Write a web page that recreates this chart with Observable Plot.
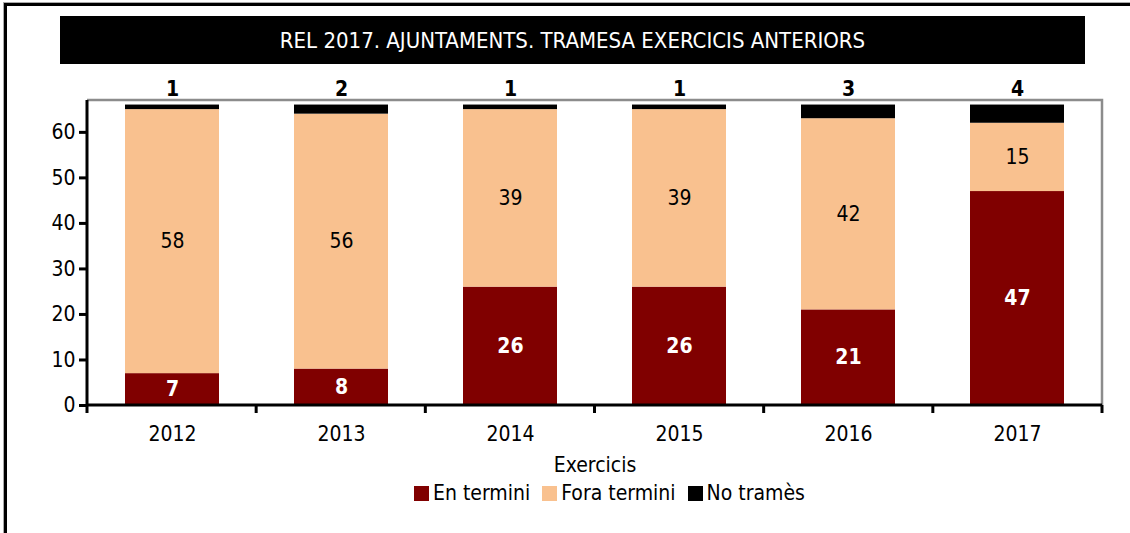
<!DOCTYPE html>
<html>
<head>
<meta charset="utf-8">
<script src="https://cdn.jsdelivr.net/npm/d3@7"></script>
<script src="https://cdn.jsdelivr.net/npm/@observablehq/plot@0.6"></script>
<style>
  html, body { margin: 0; padding: 0; background: #fff; }
  #wrap { position: relative; width: 1130px; height: 533px; overflow: hidden;
    font-family: "Liberation Sans Narrow", "Arial Narrow", "DejaVu Sans Condensed", sans-serif; }
  #border { position: absolute; left: 4px; top: 3px; width: 1140px; height: 560px;
    border-left: 3px solid #000; border-top: 3px solid #000; box-shadow: -1px -1px 0 #aaa; }
  #title { position: absolute; left: 60px; top: 16px; width: 1025px; height: 48px; background: #000;
    color: #fff; font-size: 22px; line-height: 50px; text-align: center; }
  #legend { position: absolute; left: 414px; top: 481px; display: flex; align-items: center;
    font-size: 21px; color: #000; }
  #legend .item { display: flex; align-items: center; margin-right: 12px; }
  #legend .sw { width: 15px; height: 15px; margin-right: 4px; }
  #chart { position: absolute; left: 0; top: 0; }
</style>
</head>
<body>
<div id="wrap">
  <div id="border"></div>
  <div id="title"></div>
  <div id="chart"></div>
  <div id="legend"></div>
</div>
<script>
const titleText = "REL 2017. AJUNTAMENTS. TRAMESA EXERCICIS ANTERIORS";
const years = ["2012", "2013", "2014", "2015", "2016", "2017"];
const series = ["En termini", "Fora termini", "No tramès"];
const colors = ["#800000", "#F9C18F", "#000000"];
const enTermini = [7, 8, 26, 26, 21, 47];
const foraTermini = [58, 56, 39, 39, 42, 15];
const noTrames = [1, 2, 1, 1, 3, 4];
const yTicks = [0, 10, 20, 30, 40, 50, 60];
const xLabel = "Exercicis";

const values = [enTermini, foraTermini, noTrames];
const rows = [];
years.forEach((y, i) => series.forEach((s, j) => rows.push({year: y, series: s, value: values[j][i]})));
const totals = years.map((y, i) => ({year: y, total: enTermini[i] + foraTermini[i] + noTrames[i], n: noTrames[i]}));

const W = 1130, H = 533, ML = 87, MR = 28, MT = 100, MB = 128;
const FONT = `"Liberation Sans Narrow", "Arial Narrow", "DejaVu Sans Condensed", sans-serif`;

document.getElementById("title").textContent = titleText;

const axisDecor = (index, scales, vals, dim) => {
  const g = d3.create("svg:g");
  const x0 = dim.marginLeft, x1 = dim.width - dim.marginRight;
  const y0 = dim.height - dim.marginBottom, yTop = dim.marginTop;
  const step = (x1 - x0) / years.length;
  g.append("path").attr("d", `M${x0},${yTop}H${x1}V${y0}`).attr("fill", "none")
    .attr("stroke", "#8c8c8c").attr("stroke-width", 2.5);
  g.append("path").attr("d", `M${x0},${yTop}V${y0}H${x1}`).attr("fill", "none")
    .attr("stroke", "#000").attr("stroke-width", 3);
  d3.range(years.length + 1).forEach(i => {
    g.append("line").attr("x1", x0 + i * step).attr("x2", x0 + i * step)
      .attr("y1", y0).attr("y2", y0 + 8).attr("stroke", "#000").attr("stroke-width", 3);
  });
  return g.node();
};

const chart = Plot.plot({
  width: W, height: H,
  marginLeft: ML, marginRight: MR, marginTop: MT, marginBottom: MB,
  style: {fontFamily: FONT, fontSize: "21px", color: "#000", background: "transparent"},
  x: {domain: years, paddingInner: 0.445, paddingOuter: 0.2225, label: null},
  y: {domain: [0, 67], label: null},
  color: {domain: series, range: colors},
  marks: [
    Plot.barY(rows, Plot.stackY({x: "year", y: "value", fill: "series", order: series})),
    Plot.text(rows, Plot.stackY({x: "year", y: "value", z: "series", order: series,
      text: d => d.series === "Fora termini" ? String(d.value) : "", fill: "#000", fontSize: 21})),
    Plot.text(rows, Plot.stackY({x: "year", y: "value", z: "series", order: series,
      text: d => d.series === "En termini" ? String(d.value) : "", fill: "#fff", fontWeight: "bold", fontSize: 21})),
    Plot.text(totals, {x: "year", y: "total", text: "n", fontWeight: "bold", fontSize: 21, dy: -16, fill: "#000"}),
    Plot.axisY({ticks: yTicks, tickSize: 8, tickPadding: 4, strokeWidth: 3, fontSize: 21, label: null}),
    Plot.axisX({tickSize: 0, tickPadding: 21, fontSize: 21, label: xLabel, labelAnchor: "center", labelOffset: 66}),
    axisDecor
  ]
});
document.getElementById("chart").appendChild(chart);

const legend = document.getElementById("legend");
series.forEach((s, i) => {
  const item = document.createElement("div");
  item.className = "item";
  const sw = document.createElement("div");
  sw.className = "sw"; sw.style.background = colors[i];
  const t = document.createElement("span"); t.textContent = s;
  item.appendChild(sw); item.appendChild(t);
  legend.appendChild(item);
});
</script>
</body>
</html>
